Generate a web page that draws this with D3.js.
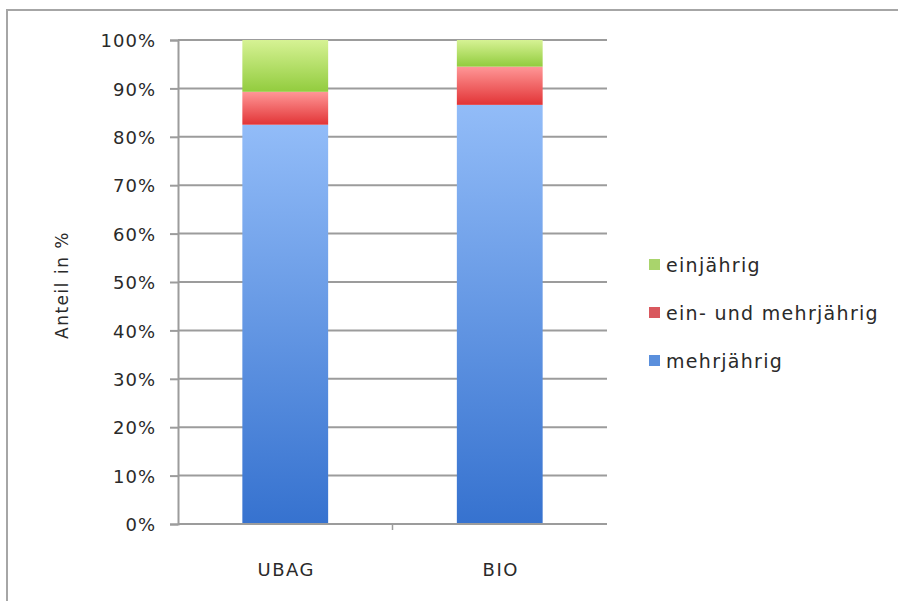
<!DOCTYPE html>
<html><head><meta charset="utf-8">
<script src="https://cdn.jsdelivr.net/npm/d3@7"></script>
<style>
html,body{margin:0;padding:0;background:#fff;}
text{font-family:"DejaVu Sans",Verdana,sans-serif;fill:#2a2a2a;}
</style></head>
<body>
<script>
const categories = ["UBAG", "BIO"];
const seriesNames = ["mehrjährig", "ein- und mehrjährig", "einjährig"];
const mehrjaehrig = [82.5, 86.6];
const einUndMehrjaehrig = [6.8, 7.9];
const einjaehrig = [10.7, 5.5];
const yTicks = [0, 10, 20, 30, 40, 50, 60, 70, 80, 90, 100];
const legendOrder = ["einjährig", "ein- und mehrjährig", "mehrjährig"];

const W = 898, H = 601;
const svg = d3.select("body").append("svg").attr("width", W).attr("height", H);

const defs = svg.append("defs");
const grads = {
  "mehrjährig": ["#92bcf8", "#3672cf"],
  "ein- und mehrjährig": ["#ff9797", "#e23436"],
  "einjährig": ["#d6f294", "#92cc3e"]
};
const legendColors = {
  "mehrjährig": "#5a8fdc",
  "ein- und mehrjährig": "#d9585e",
  "einjährig": "#a9d46c"
};
Object.entries(grads).forEach(([k, c], i) => {
  const g = defs.append("linearGradient").attr("id", "g" + i)
    .attr("x1", 0).attr("y1", 0).attr("x2", 0).attr("y2", 1);
  g.append("stop").attr("offset", "0%").attr("stop-color", c[0]);
  g.append("stop").attr("offset", "100%").attr("stop-color", c[1]);
});
const gradId = {};
Object.keys(grads).forEach((k, i) => gradId[k] = "url(#g" + i + ")");

// frame
svg.append("line").attr("x1", 6).attr("x2", W).attr("y1", 10).attr("y2", 10)
  .attr("stroke", "#a6a6a6").attr("stroke-width", 2);
svg.append("line").attr("x1", 7).attr("x2", 7).attr("y1", 10).attr("y2", H)
  .attr("stroke", "#a6a6a6").attr("stroke-width", 2);

const x = d3.scaleBand().domain(categories).range([178, 607]).paddingInner(0.6).paddingOuter(0.3);
const y = d3.scaleLinear().domain([0, 100]).range([524, 40]);

// grid
svg.append("g").selectAll("line").data(yTicks.slice(1)).join("line")
  .attr("x1", 178).attr("x2", 607)
  .attr("y1", d => y(d)).attr("y2", d => y(d))
  .attr("stroke", "#9c9c9c").attr("stroke-width", 2);

// stacked data
const rows = categories.map((c, i) => ({
  cat: c,
  "mehrjährig": mehrjaehrig[i],
  "ein- und mehrjährig": einUndMehrjaehrig[i],
  "einjährig": einjaehrig[i]
}));
const stack = d3.stack().keys(seriesNames)(rows);

svg.append("g").selectAll("g").data(stack).join("g")
  .attr("fill", d => gradId[d.key])
  .selectAll("rect").data(d => d).join("rect")
  .attr("x", d => x(d.data.cat))
  .attr("width", x.bandwidth())
  .attr("y", d => y(d[1]))
  .attr("height", d => y(d[0]) - y(d[1]));

// y axis
const yAxis = svg.append("g").attr("transform", "translate(178,0)")
  .call(d3.axisLeft(y).tickValues(yTicks).tickSize(8).tickPadding(0).tickFormat(d => d + "%"));
yAxis.select(".domain").attr("stroke", "#9c9c9c").attr("stroke-width", 2);
yAxis.selectAll(".tick line").attr("stroke", "#9c9c9c").attr("stroke-width", 2);
yAxis.selectAll(".tick text")
  .attr("x", -22).attr("dy", "0.37em")
  .style("font-size", "18px").style("letter-spacing", "1px").attr("fill", "#2a2a2a");

// x axis
svg.append("line").attr("x1", 178).attr("x2", 607).attr("y1", 524).attr("y2", 524)
  .attr("stroke", "#9c9c9c").attr("stroke-width", 2);
svg.append("line").attr("x1", 392.5).attr("x2", 392.5).attr("y1", 524).attr("y2", 530)
  .attr("stroke", "#9c9c9c").attr("stroke-width", 1.5);
svg.append("g").selectAll("text").data(categories).join("text")
  .attr("x", d => x(d) + x.bandwidth() / 2 + 1)
  .attr("y", 576)
  .attr("text-anchor", "middle")
  .style("font-size", "18px").style("letter-spacing", "1.5px")
  .text(d => d);

// y title
svg.append("text")
  .attr("transform", "translate(68,285) rotate(-90)")
  .attr("text-anchor", "middle")
  .style("font-size", "17px").style("letter-spacing", "1.5px")
  .text("Anteil in %");

// legend
const lg = svg.append("g").selectAll("g").data(legendOrder).join("g")
  .attr("transform", (d, i) => `translate(649,${265 + i * 48})`);
lg.append("rect").attr("x", 0).attr("y", -6).attr("width", 11).attr("height", 11)
  .attr("fill", d => legendColors[d]);
lg.append("text").attr("x", 17).attr("y", 7)
  .style("font-size", "19px").style("letter-spacing", "1.3px")
  .text(d => d);
</script>
</body></html>
